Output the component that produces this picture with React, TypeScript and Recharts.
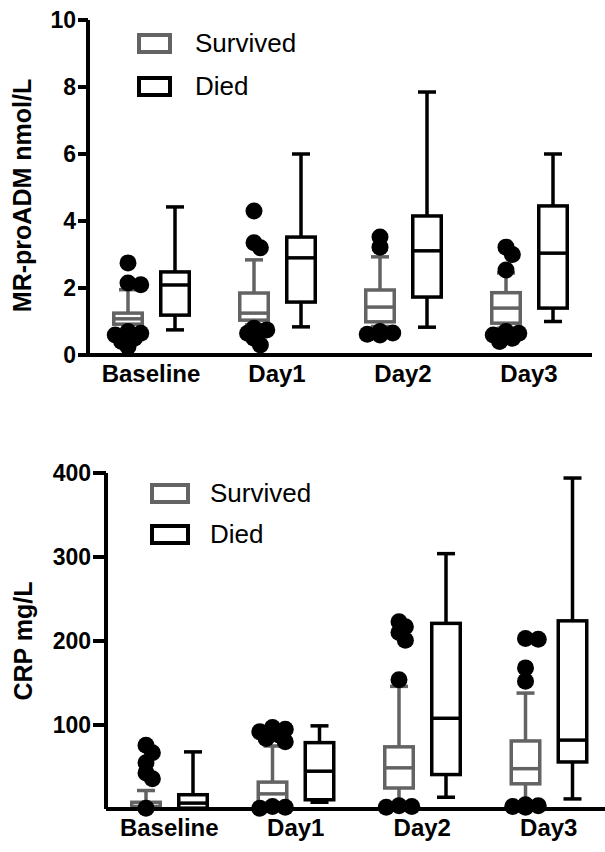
import { ComposedChart, Bar, XAxis, YAxis, Legend } from 'recharts';

const FONT = '"Liberation Sans", Arial, Helvetica, sans-serif';
const GREY = '#636363';
const BLACK = '#000000';

const DAYS = ['Baseline', 'Day1', 'Day2', 'Day3'];

// box stats per day: [whisker low, q1, median, q3, whisker high]
const ADM_SURVIVED = [
  [0.65, 0.92, 1.08, 1.25, 1.95],
  [0.9, 1.04, 1.25, 1.85, 2.84],
  [0.85, 0.99, 1.43, 1.94, 2.93],
  [0.8, 0.95, 1.4, 1.86, 2.45],
];
const ADM_SURVIVED_OUT = [
  [2.75, 2.15, 2.1, 0.7, 0.65, 0.6, 0.5, 0.4, 0.25],
  [4.3, 3.35, 3.2, 0.8, 0.75, 0.65, 0.5, 0.3],
  [3.52, 3.22, 0.7, 0.66, 0.62, 0.6],
  [3.22, 3.0, 2.54, 0.7, 0.65, 0.6, 0.5, 0.4],
];
const ADM_DIED = [
  [0.75, 1.19, 2.09, 2.48, 4.42],
  [0.84, 1.58, 2.9, 3.52, 6.0],
  [0.83, 1.73, 3.11, 4.15, 7.85],
  [1.0, 1.4, 3.04, 4.45, 6.0],
];
const ADM_TICKS = [0, 2, 4, 6, 8, 10];

const CRP_SURVIVED = [
  [0, 0, 3, 8, 22],
  [0, 7, 18, 32, 75],
  [0, 25, 49, 74, 146],
  [0, 30, 48, 81, 138],
];
const CRP_SURVIVED_OUT = [
  [76, 67, 55, 43, 36, 1],
  [97, 95, 92, 88, 84, 80, 2, 1, 3],
  [223, 217, 210, 201, 154, 2, 4, 3],
  [203, 202, 168, 152, 2, 3, 4, 5],
];
const CRP_DIED = [
  [0, 1, 7, 17, 68],
  [8, 11, 45, 79, 99],
  [14, 41, 108, 221, 304],
  [12, 56, 82, 224, 394],
];
const CRP_TICKS = [100, 200, 300, 400];

const SERIES = [
  { key: 'survived', name: 'Survived', color: GREY },
  { key: 'died', name: 'Died', color: BLACK },
];

type Stats = { lo: number; hi: number; box: number[]; out: number[] };

function makeStats(box: number[], out: number[]): Stats {
  const all = [...box, ...out];
  return { lo: Math.min(...all), hi: Math.max(...all), box, out };
}

function buildRows(surv: number[][], survOut: number[][], died: number[][]) {
  return DAYS.map((day, i) => {
    const s = makeStats(surv[i], survOut[i]);
    const d = makeStats(died[i], []);
    return {
      day,
      survived: [s.lo, s.hi],
      died: [d.lo, d.hi],
      survivedStats: s,
      diedStats: d,
    };
  });
}

const admRows = buildRows(ADM_SURVIVED, ADM_SURVIVED_OUT, ADM_DIED);
const crpRows = buildRows(CRP_SURVIVED, CRP_SURVIVED_OUT, CRP_DIED);

const R = 8.5;

function BoxShape(props: any) {
  const { x, y, width, height, stats, color } = props;
  if (!stats) return null;
  const { lo, hi, box, out } = stats as Stats;
  const [wl, q1, med, q3, wh] = box;
  const top = Math.min(y, y + height);
  const bottom = Math.max(y, y + height);
  const py = (v: number) => (hi === lo ? bottom : bottom - ((v - lo) / (hi - lo)) * (bottom - top));
  const cx = x + width / 2;
  const cap = 9;
  const sw = 3.5;

  // tight beeswarm for the outliers (dots overlap, like the original)
  const placed: { x: number; y: number }[] = [];
  [...out].sort((a, b) => b - a).forEach((v) => {
    const yy = py(v);
    const steps = [0, 1, -1, 2, -2];
    let spot = { x: cx, y: yy };
    for (const k of steps) {
      const xx = cx + k * R * 0.75;
      if (placed.every((p) => Math.hypot(p.x - xx, p.y - yy) >= R * 0.95)) {
        spot = { x: xx, y: yy };
        break;
      }
    }
    placed.push(spot);
  });

  return (
    <g>
      <line x1={cx} x2={cx} y1={py(wh)} y2={py(q3)} stroke={color} strokeWidth={sw} />
      <line x1={cx} x2={cx} y1={py(q1)} y2={py(wl)} stroke={color} strokeWidth={sw} />
      <line x1={cx - cap} x2={cx + cap} y1={py(wh)} y2={py(wh)} stroke={color} strokeWidth={sw} />
      <line x1={cx - cap} x2={cx + cap} y1={py(wl)} y2={py(wl)} stroke={color} strokeWidth={sw} />
      <rect
        x={x + sw / 2}
        y={py(q3)}
        width={width - sw}
        height={Math.max(py(q1) - py(q3), 0)}
        fill="#fff"
        stroke={color}
        strokeWidth={sw}
      />
      <line x1={x + sw / 2} x2={x + width - sw / 2} y1={py(med)} y2={py(med)} stroke={color} strokeWidth={sw} />
      {placed.map((p, i) => (
        <circle key={i} cx={p.x} cy={p.y} r={R} fill={BLACK} />
      ))}
    </g>
  );
}

const yTitle = (text: string, cx: number, shift: number) => (props: any) => {
  const vb = props.viewBox || {};
  const cy = vb.y + vb.height / 2 + shift;
  return (
    <text
      x={cx}
      y={cy}
      transform={`rotate(-90 ${cx} ${cy})`}
      textAnchor="middle"
      dominantBaseline="central"
      fontSize={25}
      fontWeight={700}
      fontFamily={FONT}
      fill={BLACK}
    >
      {text}
    </text>
  );
};

const makeLegend = (boxW: number, rowH: number, gap: number) => () => (
  <div style={{ fontFamily: FONT, fontSize: 26, color: BLACK }}>
    {SERIES.map((s) => (
      <div key={s.key} style={{ display: 'flex', alignItems: 'center', height: rowH }}>
        <span
          style={{
            display: 'inline-block',
            boxSizing: 'border-box',
            width: boxW,
            height: 21,
            border: `4px solid ${s.color}`,
            marginRight: gap,
          }}
        />
        {s.name}
      </div>
    ))}
  </div>
);

interface PanelProps {
  rows: any[];
  width: number;
  height: number;
  margin: { top: number; right: number; bottom: number; left: number };
  yWidth: number;
  xHeight: number;
  domain: [number, number];
  ticks: number[];
  title: string;
  titleX: number;
  titleShift: number;
  tickSize: number;
  legendPos: { left: number; top: number };
  legendBox: number;
  legendRow: number;
  legendGap: number;
}

function Panel(p: PanelProps) {
  return (
    <ComposedChart
      width={p.width}
      height={p.height}
      data={p.rows}
      margin={p.margin}
      barGap={15}
      style={{ fontFamily: FONT }}
    >
      <XAxis
        dataKey="day"
        height={p.xHeight}
        interval={0}
        tickLine={false}
        tickMargin={4}
        axisLine={{ stroke: BLACK, strokeWidth: 4 }}
        tick={{ fill: BLACK, fontSize: 24, fontWeight: 700, fontFamily: FONT }}
      />
      <YAxis
        type="number"
        width={p.yWidth}
        domain={p.domain}
        ticks={p.ticks}
        interval={0}
        tickSize={p.tickSize}
        tickMargin={2}
        axisLine={{ stroke: BLACK, strokeWidth: 4 }}
        tickLine={{ stroke: BLACK, strokeWidth: 4 }}
        tick={{ fill: BLACK, fontSize: 23, fontWeight: 700, fontFamily: FONT }}
        label={yTitle(p.title, p.titleX, p.titleShift)}
      />
      <Legend
        layout="horizontal"
        verticalAlign="middle"
        align="center"
        content={makeLegend(p.legendBox, p.legendRow, p.legendGap)}
        wrapperStyle={{ left: p.legendPos.left, top: p.legendPos.top, width: 'auto' }}
      />
      {SERIES.map((s) => (
        <Bar
          key={s.key}
          dataKey={s.key}
          name={s.name}
          barSize={32}
          fill="none"
          isAnimationActive={false}
          shape={(bp: any) => (
            <BoxShape {...bp} stats={bp.payload?.[`${s.key}Stats`]} color={s.color} />
          )}
        />
      ))}
    </ComposedChart>
  );
}

export default function App() {
  return (
    <div
      style={{
        position: 'absolute',
        left: 0,
        top: 0,
        width: 605,
        height: 852,
        overflow: 'hidden',
        background: '#fff',
      }}
    >
      <div style={{ position: 'absolute', left: 0, top: 0 }}>
        <Panel
          rows={admRows}
          width={605}
          height={410}
          margin={{ top: 20, right: 13, bottom: 0, left: 0 }}
          yWidth={88}
          xHeight={55}
          domain={[0, 10]}
          ticks={ADM_TICKS}
          title="MR-proADM nmol/L"
          titleX={22}
          titleShift={8}
          tickSize={10}
          legendPos={{ left: 137, top: 22 }}
          legendBox={35}
          legendRow={43}
          legendGap={23}
        />
      </div>
      <div style={{ position: 'absolute', left: 0, top: 420 }}>
        <Panel
          rows={crpRows}
          width={612}
          height={432}
          margin={{ top: 53, right: 0, bottom: 0, left: 0 }}
          yWidth={106}
          xHeight={43}
          domain={[0, 400]}
          ticks={CRP_TICKS}
          title="CRP mg/L"
          titleX={23}
          titleShift={0}
          tickSize={13}
          legendPos={{ left: 150, top: 53 }}
          legendBox={40}
          legendRow={41}
          legendGap={20}
        />
      </div>
    </div>
  );
}
